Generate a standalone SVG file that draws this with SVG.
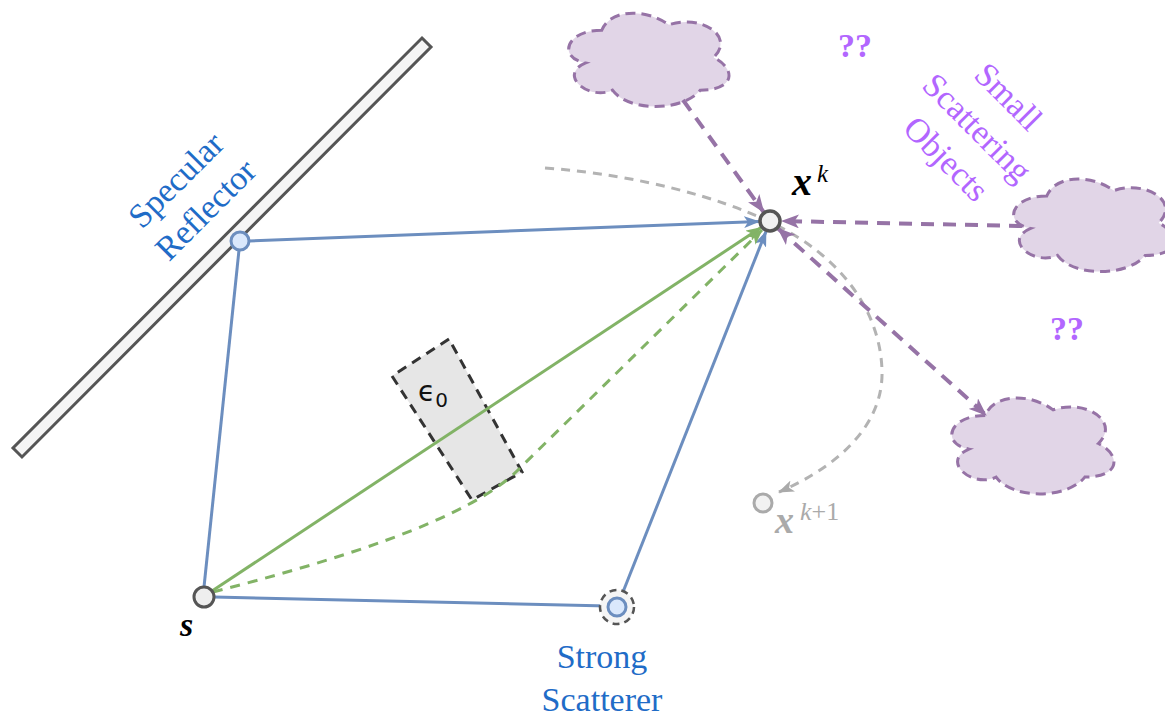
<svg xmlns="http://www.w3.org/2000/svg" width="1165" height="718" viewBox="0 0 1165 718">
<style>
.blue{stroke:#6c8ebf;stroke-width:3;fill:none}
.green{stroke:#82b366;stroke-width:3;fill:none}
.gdash{stroke:#82b366;stroke-width:3;fill:none;stroke-dasharray:10 8}
.purple{stroke:#9673a6;stroke-width:4;fill:none;stroke-dasharray:13 9}
.gray{stroke:#b3b3b3;stroke-width:3;fill:none;stroke-dasharray:9 7}
.cloud{fill:#e1d5e7;stroke:#9673a6;stroke-width:3;stroke-dasharray:10 6}
.serif{font-family:"Liberation Serif","Times New Roman",serif}
.lbl-blue{fill:#1f6cc7;font-size:34px}
.lbl-purple{fill:#b266ff;font-size:34px}
.q{fill:#b266ff;font-size:34px;font-weight:bold}
.math{font-family:"Liberation Serif","Times New Roman",serif;font-style:italic}
</style>
<defs>
<marker id="aBlue" markerUnits="userSpaceOnUse" markerWidth="16" markerHeight="12" viewBox="0 0 16 12" refX="15" refY="6" orient="auto"><path d="M0,0 L16,6 L0,12 L4,6 Z" fill="#6c8ebf"/></marker>
<marker id="aGreen" markerUnits="userSpaceOnUse" markerWidth="16" markerHeight="12" viewBox="0 0 16 12" refX="15" refY="6" orient="auto"><path d="M0,0 L16,6 L0,12 L4,6 Z" fill="#82b366"/></marker>
<marker id="aPurple" markerUnits="userSpaceOnUse" markerWidth="18" markerHeight="14" viewBox="0 0 18 14" refX="17" refY="7" orient="auto"><path d="M0,0 L18,7 L0,14 L4.5,7 Z" fill="#9673a6"/></marker>
<marker id="aPurpleS" markerUnits="userSpaceOnUse" markerWidth="18" markerHeight="14" viewBox="0 0 18 14" refX="1" refY="7" orient="auto"><path d="M18,0 L0,7 L18,14 L13.5,7 Z" fill="#9673a6"/></marker>
<marker id="aGray" markerUnits="userSpaceOnUse" markerWidth="16" markerHeight="12" viewBox="0 0 16 12" refX="15" refY="6" orient="auto"><path d="M0,0 L16,6 L0,12 L4,6 Z" fill="#aaaaaa"/></marker>
</defs>
<rect width="1165" height="718" fill="#ffffff"/>

<g id="reflector">
<polygon points="422,38 431,47 22,457 13,448" fill="#f5f5f5" stroke="#555555" stroke-width="3"/>
<text class="serif lbl-blue" text-anchor="middle" transform="translate(191,195) rotate(-45)"><tspan x="0" y="-10">Specular</tspan><tspan x="0" y="32">Reflector</tspan></text>
</g>

<g id="clouds">
<path id="cloud1" class="cloud" d="M601.75,30.25 C565.95,30.25 557,57.5 585.64,62.95 C557,74.9 589.22,101.1 612.49,90.2 C628.6,112 682.3,112 700.2,90.2 C736,90.2 736,68.4 713.6,57.5 C736,35.7 700.2,13.9 668.9,24.8 C646.5,8.45 610.7,8.45 601.75,30.25 Z"/>
<path id="cloud2" class="cloud" d="M1046.75,196 C1010.95,196 1002,223 1030.64,228.4 C1002,240.3 1034.22,266.2 1057.49,255.4 C1073.6,277 1127.3,277 1145.2,255.4 C1181,255.4 1181,233.8 1158.6,223 C1181,201.4 1145.2,179.8 1113.9,190.6 C1091.5,174.4 1055.7,174.4 1046.75,196 Z"/>
<path id="cloud3" class="cloud" d="M985.25,415.5 C949.05,415.5 940,443.5 968.96,449.1 C940,461.4 972.58,488.3 996.11,477.1 C1012.4,499.5 1066.7,499.5 1084.8,477.1 C1121,477.1 1121,454.7 1098.4,443.5 C1121,421.1 1084.8,398.7 1053.1,409.9 C1030.5,393.1 994.3,393.1 985.25,415.5 Z"/>
</g>

<g id="epsilon-box">
<polygon points="449,339 392,376 472,500 522,472" fill="#e6e6e6" stroke="#333333" stroke-width="3" stroke-dasharray="10 7"/>
<text x="418" y="401" font-family="DejaVu Sans,sans-serif" font-size="28" fill="#111">ϵ<tspan font-size="20" dy="6">0</tspan></text>
</g>

<g id="connectors">
<path class="gray" d="M545,168 C640,175 720,198 770,222 C840,255 880,310 882,370 C884,430 830,470 779,492" marker-end="url(#aGray)"/>
<line class="blue" x1="249" y1="241" x2="759" y2="221.5" marker-end="url(#aBlue)"/>
<line class="blue" x1="204" y1="587" x2="239" y2="250"/>
<line class="blue" x1="214" y1="597" x2="608" y2="606"/>
<line class="blue" x1="620.7" y1="597.7" x2="766" y2="231.5" marker-end="url(#aBlue)"/>
<line class="green" x1="212" y1="591" x2="761" y2="227.5" marker-end="url(#aGreen)"/>
<path class="gdash" d="M213,592 C330,562 470,520 520,468 L762,230" marker-end="url(#aGreen)"/>
<line class="purple" x1="683" y1="100" x2="763.6" y2="212" marker-end="url(#aPurple)"/>
<line class="purple" x1="1022" y1="226" x2="782" y2="221" marker-end="url(#aPurple)"/>
<line class="purple" x1="778" y1="228.5" x2="986" y2="415" marker-start="url(#aPurpleS)" marker-end="url(#aPurple)"/>
</g>

<g id="node-reflect"><circle cx="240" cy="241" r="9" fill="#dae8fc" stroke="#6c8ebf" stroke-width="3"/></g>

<g id="node-s">
<circle cx="204" cy="597" r="10" fill="#eeeeee" stroke="#555555" stroke-width="3"/>
<text class="math" x="180" y="636" font-size="34" font-weight="bold" fill="#000">s</text>
</g>

<g id="node-scatterer">
<circle cx="617" cy="607" r="17" fill="#f5f5f5" stroke="#555555" stroke-width="2.5" stroke-dasharray="7 5"/>
<circle cx="617" cy="607" r="9" fill="#dae8fc" stroke="#6c8ebf" stroke-width="3"/>
<text class="serif lbl-blue" text-anchor="middle"><tspan x="602" y="668">Strong</tspan><tspan x="602" y="711">Scatterer</tspan></text>
</g>

<g id="node-xk">
<circle cx="770" cy="221" r="10" fill="#f0f0f0" stroke="#555555" stroke-width="3.5"/>
<text class="math" x="792" y="195" font-size="40" font-weight="bold" fill="#000">x</text>
<text class="math" x="817" y="182" font-size="25" fill="#000">k</text>
</g>

<g id="node-xk1">
<circle cx="763" cy="503" r="9" fill="#f2f2f2" stroke="#aaaaaa" stroke-width="3"/>
<text class="math" x="775" y="533" font-size="38" font-weight="bold" fill="#aaaaaa">x</text>
<text x="800" y="520" font-size="26" fill="#aaaaaa" class="serif"><tspan font-style="italic">k</tspan>+1</text>
</g>

<g id="labels">
<text class="serif q" x="855" y="57" text-anchor="middle">??</text>
<text class="serif q" x="1067" y="340" text-anchor="middle">??</text>
<text class="serif lbl-purple" text-anchor="middle" transform="translate(975,130) rotate(45)"><tspan x="0" y="-36">Small</tspan><tspan x="0" y="8">Scattering</tspan><tspan x="0" y="52">Objects</tspan></text>
</g>
</svg>
